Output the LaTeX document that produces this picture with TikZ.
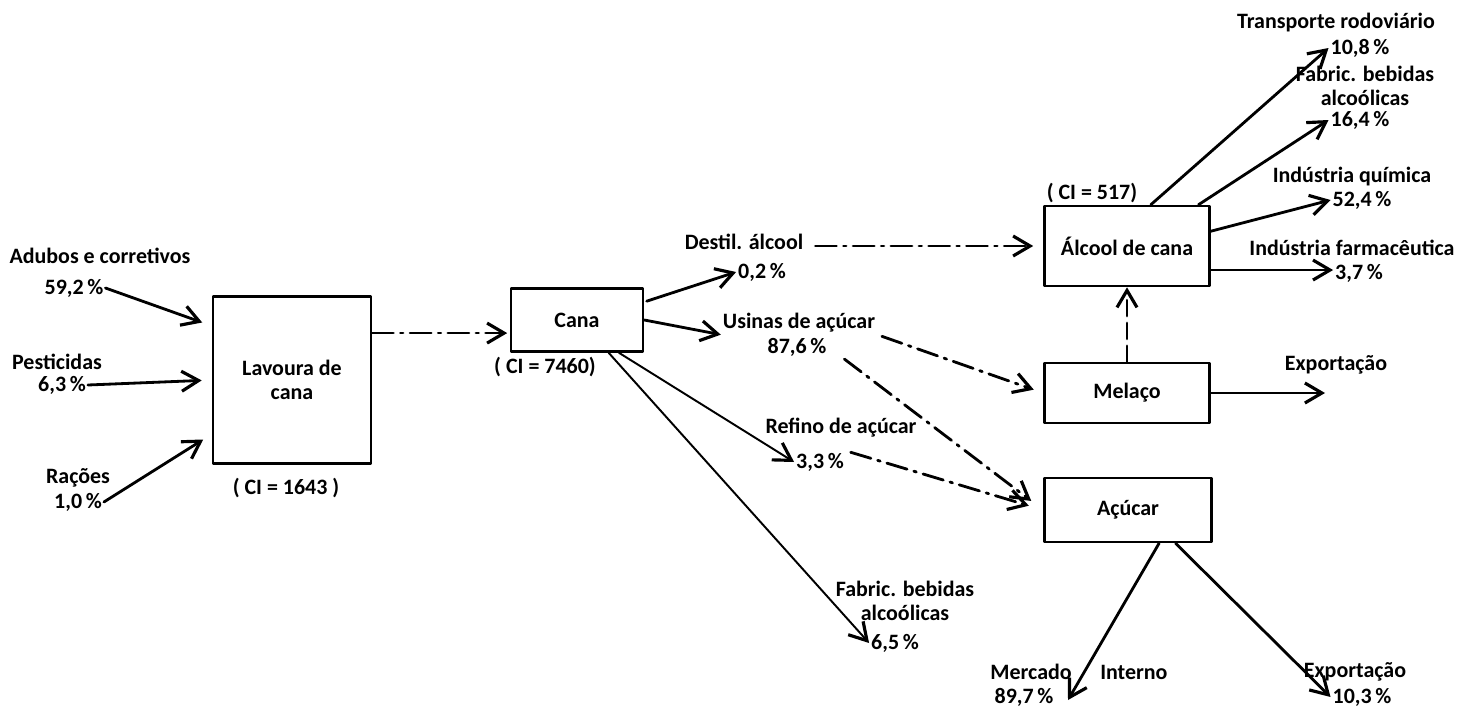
\documentclass[tikz,border=0pt]{standalone}
\usepackage{fontspec}
\setmainfont{Carlito}
\usetikzlibrary{arrows.meta}
\tikzset{>={Straight Barb[length=3.4mm,width=4mm,line width=1.8pt]}}
\tikzset{every text node part/.style={align=center}}
\tikzset{
	lbl/.style={inner sep=1pt, font=\bfseries\fontsize{12.5}{13.5}\selectfont},
	box/.style={lbl, draw, line width=1.5pt},
	flow/.style={line width=1.6pt, ->},
	thinflow/.style={line width=1.1pt, ->},
	dashdot/.style={flow, dash pattern=on 12pt off 4pt on 1.5pt off 4pt},
	dashline/.style={flow, dash pattern=on 9pt off 4pt},
}

\begin{document}
\begin{tikzpicture}[x=0.02cm, y=-0.02cm, line cap=round, line join=round]
	\useasboundingbox (0,0) rectangle (1461,707);
	
	% Boxes
	\node[box, minimum width=3.16cm, minimum height=3.34cm] (lavoura) at (292,380) {Lavoura de\\cana};
	\node[box, minimum width=2.64cm, minimum height=1.26cm] (cana) at (577,320) {Cana};
	\node[box, minimum width=3.3cm, minimum height=1.6cm] (alcool) at (1127,246) {Álcool de cana};
	\node[box, minimum width=3.3cm, minimum height=1.2cm] (melaco) at (1127,393) {Melaço};
	\node[box, minimum width=3.34cm, minimum height=1.28cm] (acucar) at (1128,510) {Açúcar};
	
	% CI values
	\node[lbl] (ciLavoura) at (286,488) {( CI = 1643 )};
	\node[lbl] (ciCana) at (545,367) {( CI = 7460)};
	\node[lbl] (ciAlcool) at (1092,193) {( CI = 517)};
	
	% Inputs
	\node[lbl] (adubos) at (100,256) {Adubos e corretivos};
	\node[lbl] (pctAdubos) at (74,288) {59,2\,\%};
	\node[lbl] (pesticidas) at (57,362) {Pesticidas};
	\node[lbl] (pctPest) at (62,385) {6,3\,\%};
	\node[lbl] (racoes) at (78,478) {Rações};
	\node[lbl] (pctRacoes) at (78,502) {1,0\,\%};
	
	% Cana outputs
	\node[lbl] (destil) at (744,242) {Destil. álcool};
	\node[lbl] (pctDestil) at (762,272) {0,2\,\%};
	\node[lbl] (usinas) at (799,323) {Usinas de açúcar};
	\node[lbl] (pctUsinas) at (797,347) {87,6\,\%};
	\node[lbl] (refino) at (841,428) {Refino de açúcar};
	\node[lbl] (pctRefino) at (820,462) {3,3\,\%};
	\node[lbl] (fabric) at (905,601) {Fabric. bebidas\\alcoólicas};
	\node[lbl] (pctFabric) at (895,643) {6,5\,\%};
	
	% Alcool outputs
	\node[lbl] (transp) at (1336,23) {Transporte rodoviário};
	\node[lbl] (pctTransp) at (1360,48) {10,8\,\%};
	\node[lbl] (bebidas) at (1365,86) {Fabric. bebidas\\alcoólicas};
	\node[lbl] (pctBebidas) at (1360,120) {16,4\,\%};
	\node[lbl] (quimica) at (1352,177) {Indústria química};
	\node[lbl] (pctQuimica) at (1362,200) {52,4\,\%};
	\node[lbl] (farma) at (1352,248) {Indústria farmacêutica};
	\node[lbl] (pctFarma) at (1359,273) {3,7\,\%};
	
	% Melaco and Acucar outputs
	\node[lbl] (exportM) at (1336,365) {Exportação};
	\coordinate (expTip) at (1325,393);
	\node[lbl] (mercado) at (1079,672) {Mercado\hspace{1.3em}Interno};
	\node[lbl] (pctMercado) at (1024,697) {89,7\,\%};
	\coordinate (mercTip) at (1068,700);
	\node[lbl] (exportA) at (1355,672) {Exportação};
	\node[lbl] (pctExportA) at (1362,697) {10,3\,\%};
	
	% Arrows into Lavoura
	\draw[flow, shorten >=2mm] (pctAdubos.east) -- (lavoura.146);
	\draw[flow, shorten >=2mm] (pctPest.east) -- (lavoura.west);
	\draw[flow, shorten >=2mm] (pctRacoes.east) -- (lavoura.214);
	\draw[dashdot, shorten >=0.5mm] (lavoura.east |- cana.191) -- (cana.191);
	
	% Arrows out of Cana
	\draw[flow, shorten <=0.5mm] (cana.15) -- (pctDestil.west);
	\draw[flow] (cana.east) -- (usinas.south west);
	\draw[thinflow] (cana.-38) -- (pctRefino.west);
	\draw[thinflow] (cana.-46) -- (pctFabric.west);
	\draw[dashdot, shorten <=2mm, shorten >=2mm] (destil.east |- alcool.west) -- (alcool.west);
	\draw[dashdot, shorten <=1mm, shorten >=2mm] (usinas.south east) -- (melaco.west);
	\draw[dashdot, shorten <=4mm, shorten >=3mm] (pctUsinas.east) -- (acucar.west);
	\draw[dashdot, shorten <=1mm, shorten >=3mm] (pctRefino.north east) -- (acucar.west);
	\draw[dashline] (melaco.north) -- (alcool.south);
	
	% Arrows out of Alcool
	\draw[flow] (alcool.60) -- (pctTransp.west);
	\draw[flow] (alcool.30) -- (pctBebidas.west);
	\draw[flow] (alcool.10) -- (pctQuimica.west);
	\draw[flow] (alcool.-16) -- (alcool.-16 -| pctFarma.west);
	
	% Arrows out of Melaco and Acucar
	\draw[flow] (melaco.east) -- (expTip);
	\draw[flow] (acucar.-47) -- (mercTip);
	\draw[flow] (acucar.-35) -- (pctExportA.west);
\end{tikzpicture}
\end{document}
